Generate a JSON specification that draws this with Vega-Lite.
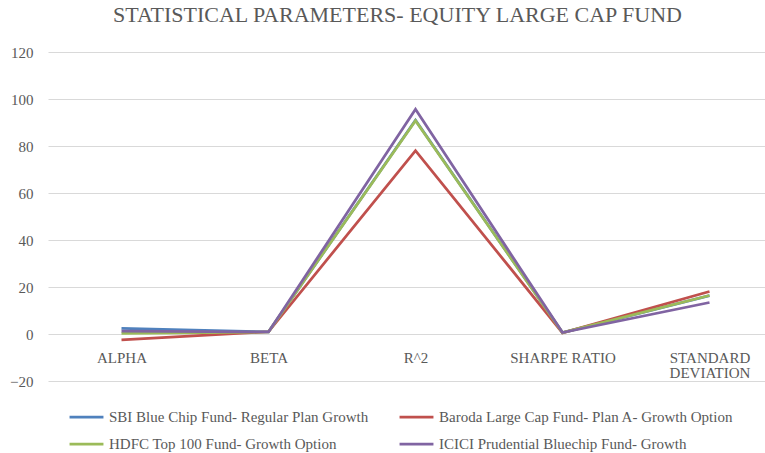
{
  "$schema": "https://vega.github.io/schema/vega-lite/v6.json",
  "width": 735,
  "height": 329,
  "autosize": {"type": "none"},
  "padding": {"left": 48, "top": 52, "right": -18, "bottom": 72},
  "background": "white",
  "config": {
    "view": {"stroke": null},
    "font": "Liberation Serif"
  },
  "title": {
    "text": "STATISTICAL PARAMETERS- EQUITY LARGE CAP FUND",
    "font": "Liberation Serif",
    "fontSize": 22,
    "fontWeight": "normal",
    "color": "#595959",
    "anchor": "middle",
    "dx": -18,
    "offset": 18
  },
  "data": {
    "values": [
      {"fund": "SBI Blue Chip Fund- Regular Plan Growth", "param": "ALPHA", "value": 2.4},
      {"fund": "SBI Blue Chip Fund- Regular Plan Growth", "param": "BETA", "value": 0.9},
      {"fund": "SBI Blue Chip Fund- Regular Plan Growth", "param": "R^2", "value": 91},
      {"fund": "SBI Blue Chip Fund- Regular Plan Growth", "param": "SHARPE RATIO", "value": 0.6},
      {"fund": "SBI Blue Chip Fund- Regular Plan Growth", "param": "STANDARD DEVIATION", "value": 16.3},
      {"fund": "Baroda Large Cap Fund- Plan A- Growth Option", "param": "ALPHA", "value": -2.5},
      {"fund": "Baroda Large Cap Fund- Plan A- Growth Option", "param": "BETA", "value": 0.95},
      {"fund": "Baroda Large Cap Fund- Plan A- Growth Option", "param": "R^2", "value": 78},
      {"fund": "Baroda Large Cap Fund- Plan A- Growth Option", "param": "SHARPE RATIO", "value": 0.5},
      {"fund": "Baroda Large Cap Fund- Plan A- Growth Option", "param": "STANDARD DEVIATION", "value": 18.1},
      {"fund": "HDFC Top 100 Fund- Growth Option", "param": "ALPHA", "value": 0.3},
      {"fund": "HDFC Top 100 Fund- Growth Option", "param": "BETA", "value": 0.9},
      {"fund": "HDFC Top 100 Fund- Growth Option", "param": "R^2", "value": 90.8},
      {"fund": "HDFC Top 100 Fund- Growth Option", "param": "SHARPE RATIO", "value": 0.6},
      {"fund": "HDFC Top 100 Fund- Growth Option", "param": "STANDARD DEVIATION", "value": 16.4},
      {"fund": "ICICI Prudential Bluechip Fund- Growth", "param": "ALPHA", "value": 1.2},
      {"fund": "ICICI Prudential Bluechip Fund- Growth", "param": "BETA", "value": 0.9},
      {"fund": "ICICI Prudential Bluechip Fund- Growth", "param": "R^2", "value": 95.6},
      {"fund": "ICICI Prudential Bluechip Fund- Growth", "param": "SHARPE RATIO", "value": 0.6},
      {"fund": "ICICI Prudential Bluechip Fund- Growth", "param": "STANDARD DEVIATION", "value": 13.4}
    ]
  },
  "mark": {"type": "line", "strokeWidth": 2.75, "strokeJoin": "miter"},
  "encoding": {
    "x": {
      "field": "param",
      "type": "nominal",
      "sort": ["ALPHA", "BETA", "R^2", "SHARPE RATIO", "STANDARD DEVIATION"],
      "scale": {"type": "point", "padding": 0.5},
      "axis": {
        "title": null,
        "orient": "bottom",
        "offset": -47,
        "domain": false,
        "ticks": false,
        "grid": false,
        "labelAngle": 0,
        "labelFont": "Liberation Serif",
        "labelFontSize": 15,
        "labelColor": "#595959",
        "labelPadding": 16,
        "labelBaseline": "top",
        "labelLineHeight": 15,
        "labelOverlap": false,
        "labelExpr": "datum.label == 'STANDARD DEVIATION' ? ['STANDARD', 'DEVIATION'] : datum.label"
      }
    },
    "y": {
      "field": "value",
      "type": "quantitative",
      "scale": {"domain": [-20, 120], "nice": false, "zero": false},
      "axis": {
        "title": null,
        "values": [-20, 0, 20, 40, 60, 80, 100, 120],
        "domain": false,
        "ticks": false,
        "grid": true,
        "gridColor": "#D9D9D9",
        "gridWidth": 1,
        "labelFont": "Liberation Serif",
        "labelFontSize": 15,
        "labelColor": "#595959",
        "labelPadding": 15
      }
    },
    "color": {
      "field": "fund",
      "type": "nominal",
      "scale": {
        "domain": [
          "SBI Blue Chip Fund- Regular Plan Growth",
          "Baroda Large Cap Fund- Plan A- Growth Option",
          "HDFC Top 100 Fund- Growth Option",
          "ICICI Prudential Bluechip Fund- Growth"
        ],
        "range": ["#4F81BD", "#C0504D", "#9BBB59", "#8064A2"]
      },
      "legend": {
        "title": null,
        "orient": "none",
        "legendX": 20,
        "legendY": 357,
        "direction": "horizontal",
        "columns": 2,
        "columnPadding": 29,
        "rowPadding": 11,
        "clipHeight": 16,
        "symbolType": "stroke",
        "symbolSize": 1150,
        "symbolStrokeWidth": 2.75,
        "labelFont": "Liberation Serif",
        "labelFontSize": 15,
        "labelColor": "#595959",
        "labelOffset": 4,
        "labelLimit": 400
      }
    }
  }
}
